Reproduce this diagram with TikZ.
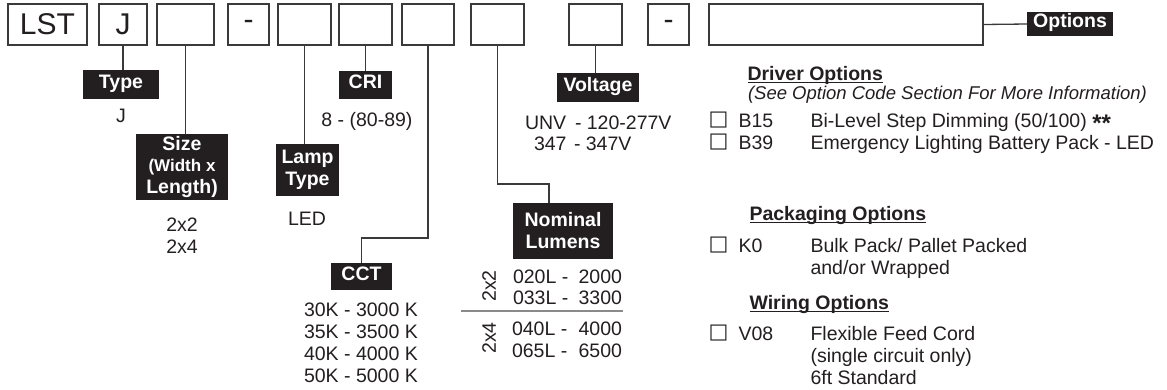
\documentclass[tikz,border=0pt]{standalone}
\usepackage{fontspec}
\setmainfont{Liberation Sans}
\newfontfamily\dejavu{DejaVu Sans}
\definecolor{ink}{HTML}{231F20}
\definecolor{rulec}{HTML}{3A3A3A}
\definecolor{sepc}{HTML}{8A8A8A}
\newcommand\myul[1]{\setbox0\hbox{#1}\rlap{\rule[-3pt]{\wd0}{1.3pt}}\box0}
\begin{document}
\begin{tikzpicture}[x=1pt,y=-1pt,
  every node/.style={text=ink, inner sep=0pt, outer sep=0pt},
  codebox/.style={draw=rulec, line width=1.3pt, minimum height=41pt, font=\fontsize{30}{30}\selectfont},
  lab/.style={fill=ink, text=white, font=\bfseries\fontsize{19.5}{22}\selectfont, text height=0.72em, text depth=0pt},
  labm/.style={fill=ink, text=white, font=\bfseries\fontsize{19.5}{22}\selectfont, align=center},
  conn/.style={draw=rulec, line width=1.3pt},
  txt/.style={font=\fontsize{19.5}{22}\selectfont, anchor=base west},
  txtc/.style={font=\fontsize{19.5}{22}\selectfont, anchor=base},
  txte/.style={font=\fontsize{19.5}{22}\selectfont, anchor=base east},
  head/.style={font=\bfseries\fontsize{19.5}{22}\selectfont, anchor=base west},
  chk/.style={font=\dejavu\fontsize{21}{21}\selectfont, anchor=center}
]
\useasboundingbox (0,0) rectangle (1167,389);
\fill[white] (0,0) rectangle (1167,389);

% top code boxes
\node[codebox, minimum width=79pt] (lst) at (47.5,24.5) {LST};
\node[codebox, minimum width=48pt] (jb) at (123,24.5) {J};
\node[codebox, minimum width=57pt] (b3) at (185.5,24.5) {};
\node[codebox, minimum width=41pt] (d1) at (248.5,24.5) {-};
\node[codebox, minimum width=53pt] (b5) at (304.5,24.5) {};
\node[codebox, minimum width=53pt] (b6) at (365.5,24.5) {};
\node[codebox, minimum width=52pt] (b7) at (428,24.5) {};
\node[codebox, minimum width=53pt] (b8) at (497.5,24.5) {};
\node[codebox, minimum width=53pt] (b9) at (595.5,24.5) {};
\node[codebox, minimum width=41pt] (d2) at (668.5,24.5) {-};
\node[codebox, minimum width=274pt] (big) at (846,24.5) {};

% labels
\node[lab, minimum width=86pt, minimum height=24pt] (opt) at (1070,24) {Options};
\node[lab, minimum width=76pt, minimum height=29pt] (type) at (121,84.5) {Type};
\node[labm, minimum width=92pt, minimum height=66pt] (size) at (182,167) {Size\\[-1pt]\fontsize{17}{19}\selectfont(Width x\\Length)};
\node[labm, minimum width=63pt, minimum height=52pt] (lamp) at (307.5,170) {Lamp\\Type};
\node[lab, minimum width=53pt, minimum height=28pt] (cri) at (365.5,85) {CRI};
\node[lab, minimum width=61pt, minimum height=27pt] (cct) at (361.5,276.5) {CCT};
\node[labm, minimum width=100pt, minimum height=56pt] (nom) at (563,231) {Nominal\\Lumens};
\node[lab, minimum width=82pt, minimum height=29pt] (volt) at (598,87.5) {Voltage};

% connectors
\coordinate (cctk) at (428,238);
\coordinate (nomk) at (549,184);
\draw[conn] (jb.south) -- (jb.south |- type.north);
\draw[conn] (b3.south) -- (b3.south |- size.north);
\draw[conn] (b5.south) -- (b5.south |- lamp.north);
\draw[conn] (b6.south) -- (b6.south |- cri.north);
\draw[conn] (b7.south) -- (cctk) -| (cct.north);
\draw[conn] (b8.south) -- (b8.south |- nomk) -- (nomk) -- (nomk |- nom.north);
\draw[conn] (b9.south) -- (b9.south |- volt.north);
\draw[conn] (big.east) -- (opt.west);

% values
\node[txtc] (tj) at (121,122) {J};
\node[txtc] (s22) at (182,231) {2x2};
\node[txtc] (s24) at (182,253) {2x4};
\node[txtc] (led) at (307,225) {LED};
\node[txtc] (crv) at (367,126) {8 - (80-89)};
\node[txt] (c1) at (304,316) {30K - 3000 K};
\node[txt] (c2) at (304,338) {35K - 3500 K};
\node[txt] (c3) at (304,360) {40K - 4000 K};
\node[txt] (c4) at (304,382) {50K - 5000 K};
\node[txt] (v1a) at (525,129) {UNV};
\node[txt] (v1b) at (575,129) {- 120-277V};
\node[txt] (v2a) at (534,150) {347};
\node[txt] (v2b) at (574,150) {- 347V};

% nominal lumens table
\node[font=\fontsize{19.5}{22}\selectfont, rotate=90] (r22) at (489,286) {2x2};
\node[font=\fontsize{19.5}{22}\selectfont, rotate=90] (r24) at (489,338) {2x4};
\node[txt] (l1a) at (513,283) {020L -};
\node[txte] (l1b) at (622,283) {2000};
\node[txt] (l2a) at (513,304) {033L -};
\node[txte] (l2b) at (622,304) {3300};
\node[txt] (l3a) at (512,335) {040L -};
\node[txte] (l3b) at (622,335) {4000};
\node[txt] (l4a) at (512,357) {065L -};
\node[txte] (l4b) at (622,357) {6500};
\draw[draw=sepc, line width=1.2pt] (461,311) -- (623,311);

% right column
\node[head] (hdrv) at (747.5,80) {\myul{Driver Options}};
\node[txt, font=\itshape\fontsize{18.5}{22}\selectfont] (note) at (748,99) {(See Option Code Section For More Information)};
\node[chk] (k1) at (718.5,120) {□};
\node[txt] (o1) at (738.5,127) {B15};
\node[txt] (o1d) at (810.5,127) {Bi-Level Step Dimming (50/100) \smash{\raisebox{-0.22em}{\bfseries\fontsize{24}{24}\selectfont**}}};
\node[chk] (k2) at (718.5,142) {□};
\node[txt] (o2) at (738.5,149) {B39};
\node[txt] (o2d) at (810.5,149) {Emergency Lighting Battery Pack - LED};

\node[head] (hpack) at (749.5,220) {\myul{Packaging Options}};
\node[chk] (k3) at (718.5,245) {□};
\node[txt] (o3) at (738.5,252) {K0};
\node[txt] (o3d) at (810.5,252) {Bulk Pack/ Pallet Packed};
\node[txt] (o3e) at (810.5,274) {and/or Wrapped};

\node[head] (hwir) at (749.5,309) {\myul{Wiring Options}};
\node[chk] (k4) at (718.5,333) {□};
\node[txt] (o4) at (738.5,340) {V08};
\node[txt] (o4d) at (810.5,340) {Flexible Feed Cord};
\node[txt] (o4e) at (810.5,362) {(single circuit only)};
\node[txt] (o4f) at (810.5,384) {6ft Standard};
\end{tikzpicture}
\end{document}
